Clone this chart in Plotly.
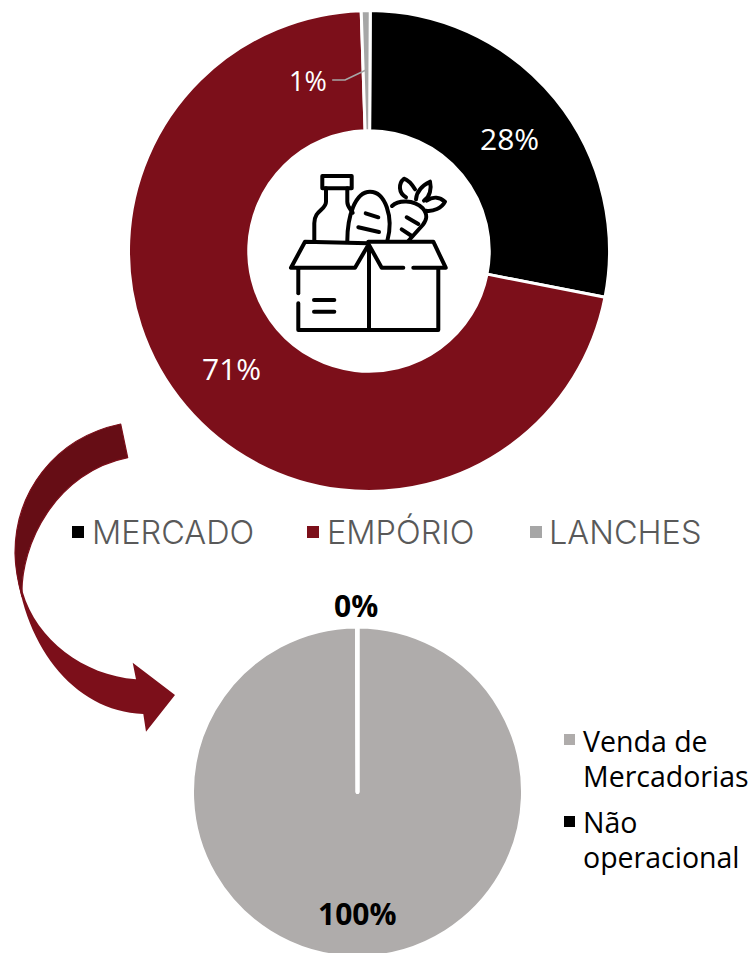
import plotly.graph_objects as go

W, H = 753, 958

# ---- data ----
segments = ["MERCADO", "EMPÓRIO", "LANCHES"]
segment_values = [28.0, 71.4, 0.6]
segment_labels = ["28%", "71%", "1%"]
segment_colors = ["#000000", "#7C0F1A", "#A6A6A6"]

revenue_types = ["Venda de Mercadorias", "Não operacional"]
revenue_values = [99.95, 0.05]
revenue_labels = ["100%", "0%"]
revenue_colors = ["#AFACAB", "#000000"]

FONT = "Open Sans"
RED = "#7C0F1A"


def domain(cx, cy, r):
    return dict(x=[(cx - r) / W, (cx + r) / W], y=[1 - (cy + r) / H, 1 - (cy - r) / H])


fig = go.Figure()
fig.add_trace(go.Pie(
    labels=segments, values=segment_values, sort=False, direction="clockwise",
    rotation=0.3, hole=0.5, domain=domain(369, 251, 240.5),
    marker=dict(colors=segment_colors, line=dict(color="white", width=3)),
    textinfo="none", hoverinfo="label+percent", showlegend=False,
))
fig.add_trace(go.Pie(
    labels=revenue_types, values=revenue_values, sort=False, direction="clockwise",
    rotation=0, domain=domain(357.5, 792, 165.5),
    marker=dict(colors=revenue_colors, line=dict(color="white", width=4)),
    textinfo="none", hoverinfo="label+percent", showlegend=False,
))

shapes = []
annots = []


def text(x, y, s, size, color, weight=400, anchor="center", family=FONT):
    annots.append(dict(x=x, y=y, xref="x", yref="y", text=s, showarrow=False, xanchor=anchor,
                       yanchor="middle", font=dict(family=family, size=size, color=color, weight=weight)))


def stroke(path, color="black", width=4, fill=None):
    shapes.append(dict(type="path", xref="x", yref="y", path=path, layer="above",
                       line=dict(color=color, width=width),
                       fillcolor=fill if fill else "rgba(0,0,0,0)"))


def square(x, y, color, s=12):
    shapes.append(dict(type="rect", xref="x", yref="y", x0=x, x1=x + s, y0=y, y1=y + s,
                       fillcolor=color, line=dict(width=0), layer="above"))


# percentage labels
text(509, 138, segment_labels[0], 30, "white", 400)
text(231, 368, segment_labels[1], 30, "white", 400)
text(308, 80, segment_labels[2], 27, "white", 400)
text(356, 605, revenue_labels[1], 30, "black", 700)
text(357, 913, revenue_labels[0], 30, "black", 700)

# leader line for the 1% label
stroke("M332.7,80 L345,80 L366,70", color="#A6A6A6", width=1.5)

# top legend
for sx, tx, name, col in zip([72, 307, 530], [90, 325, 547], segments, segment_colors):
    square(sx, 526, col)
    text(tx, 532, name, 32.5, "#595959", 300, "left", "Inter")

# right legend
square(564, 734, revenue_colors[0], 11)
square(564, 816, revenue_colors[1], 11)
text(581, 741, "Venda de", 28.5, "black", 400, "left")
text(581, 776, "Mercadorias", 28.5, "black", 400, "left")
text(581, 822, "Não", 28.5, "black", 400, "left")
text(581, 857, "operacional", 28.5, "black", 400, "left")


# decorative arrow
def Z(px, py):
    return f"{px / 3:.1f},{410 + py / 3:.1f}"


arrow_lower = ("M" + Z(45, 430) + " C" + Z(60, 700) + " " + Z(220, 905) + " " + Z(430, 912)
               + " L" + Z(438, 965) + " L" + Z(525, 855) + " L" + Z(398, 758) + " L" + Z(408, 808)
               + " C" + Z(250, 795) + " " + Z(110, 690) + " " + Z(68, 545) + " Z")
arrow_upper = ("M" + Z(362, 42) + " C" + Z(160, 85) + " " + Z(45, 250) + " " + Z(45, 430)
               + " C" + Z(46, 480) + " " + Z(55, 520) + " " + Z(66, 560)
               + " C" + Z(60, 400) + " " + Z(170, 185) + " " + Z(383, 143) + " Z")
shapes.append(dict(type="path", xref="x", yref="y", path=arrow_lower, fillcolor=RED,
                   line=dict(width=0), layer="above"))
stroke(arrow_upper, color=RED, width=1.2, fill="#660D15")


# grocery box icon
def I(px, py):
    return f"{270 + px / 3:.1f},{160 + py / 3:.1f}"


def poly(*pts, close=False):
    return "M" + " L".join(I(*p) for p in pts) + (" Z" if close else "")


def curve(start, *segs):
    s = "M" + I(*start)
    for c1, c2, e in segs:
        s += " C" + I(*c1) + " " + I(*c2) + " " + I(*e)
    return s


icon = [
    poly((157, 48), (245, 48), (245, 85), (157, 85), close=True),  # cap
    curve((168, 85), ((168, 85), (168, 120), (168, 125)), ((168, 150), (133, 150), (133, 190))) + " L" + I(133, 243),
    curve((232, 85), ((232, 85), (232, 115), (232, 125)), ((232, 140), (240, 145), (248, 158))),
    curve((232, 243), ((232, 170), (255, 95), (300, 95)), ((345, 95), (372, 170), (352, 243))),
    poly((287, 160), (325, 172)),
    poly((265, 202), (327, 216)),
    curve((366, 138), ((385, 120), (430, 118), (458, 145)), ((475, 165), (470, 180), (458, 195))) + " L" + I(415, 243),
    poly((410, 172), (445, 192)),
    poly((395, 208), (425, 228)),
    curve((408, 112), ((385, 100), (385, 70), (402, 56)), ((415, 60), (425, 72), (435, 88))),
    curve((438, 118), ((440, 90), (460, 75), (480, 65)), ((485, 85), (480, 110), (462, 122))),
    curve((468, 152), ((490, 155), (515, 145), (525, 125)), ((510, 112), (490, 108), (470, 122))),
    poly((295, 250), (105, 245), (63, 323), (255, 323), (295, 255)),
    poly((295, 245), (490, 245), (527, 323), (430, 323)),
    poly((400, 323), (335, 323), (297, 255), (297, 510)),
    poly((85, 328), (85, 400)),
    poly((85, 430), (85, 510), (505, 510), (505, 328)),
    poly((132, 420), (193, 420)),
    poly((132, 455), (193, 455)),
]
for p in icon:
    stroke(p)

hidden = dict(visible=False, fixedrange=True)
fig.update_layout(
    width=W, height=H, margin=dict(l=0, r=0, t=0, b=0),
    paper_bgcolor="white", plot_bgcolor="white", showlegend=False,
    xaxis=dict(range=[0, W], domain=[0, 1], **hidden),
    yaxis=dict(range=[H, 0], domain=[0, 1], **hidden),
    shapes=shapes, annotations=annots,
)

css = ("var s=document.createElement('style');"
       "s.textContent='html,body{margin:0;padding:0;overflow:hidden}"
       ".shapelayer path{stroke-linecap:round;stroke-linejoin:round}';"
       "document.head.appendChild(s);")
fig.write_html("out.html", config={"displayModeBar": False}, post_script=css)
